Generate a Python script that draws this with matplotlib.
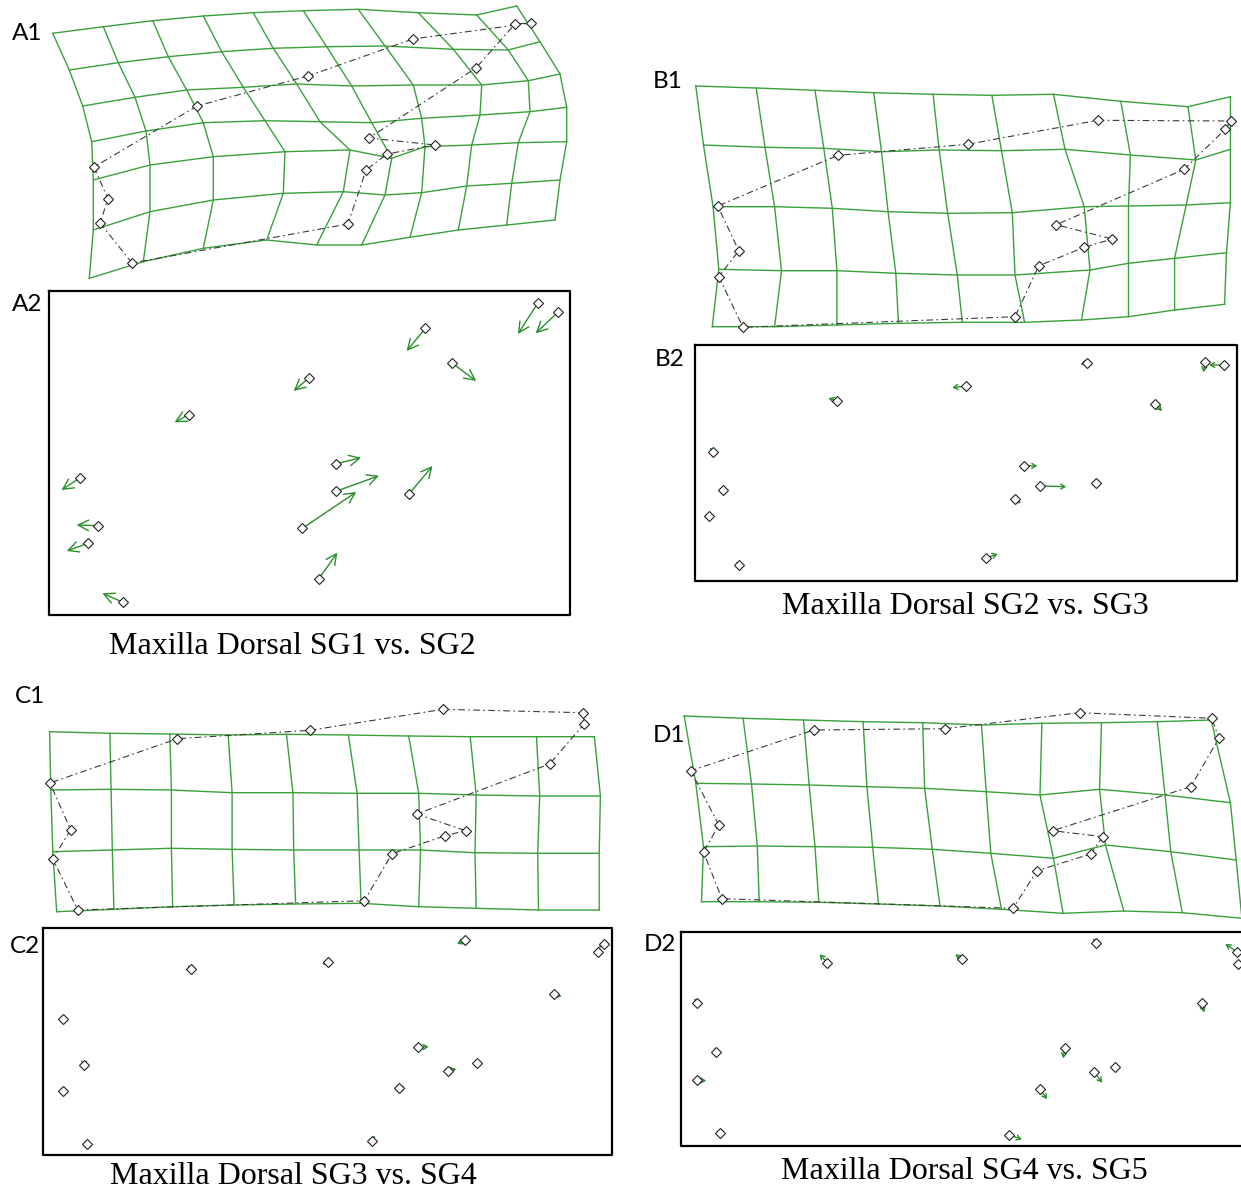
import matplotlib.pyplot as plt
import numpy as np

W, H = 1241, 1193
GRID_GREEN = '#3aa13a'
VEC_GREEN = '#2a8f2a'

# ---------------- A1: warped grid, node rows (x, y) ----------------
a1_gx = [
    [52.7, 103.3, 152.7, 203.3, 253.3, 303.3, 358.3, 418.3, 476.7, 516.7],
    [69.3, 118.3, 168.3, 221.7, 273.3, 326.7, 385.0, 453.3, 508.3, 540.0],
    [82.7, 135.0, 186.7, 243.3, 296.7, 351.7, 413.3, 481.7, 528.3, 560.0],
    [91.7, 146.0, 203.3, 265.0, 320.0, 371.7, 421.7, 480.0, 530.0, 566.7],
    [93.3, 150.0, 213.3, 285.0, 350.0, 391.7, 425.0, 471.7, 518.3, 566.7],
    [93.3, 150.0, 213.3, 283.3, 343.3, 385.0, 421.7, 466.7, 511.7, 560.0],
    [89.3, 143.3, 203.3, 266.7, 316.7, 361.7, 410.0, 458.3, 506.7, 555.0],
]
a1_gy = [
    [33.3, 26.7, 20.7, 16.0, 12.7, 10.7, 9.3, 12.7, 15.0, 6.0],
    [70.0, 62.7, 56.7, 51.7, 48.3, 46.7, 46.0, 49.3, 50.0, 41.7],
    [106.0, 97.3, 90.0, 87.3, 84.0, 86.0, 85.0, 85.0, 80.7, 74.0],
    [141.7, 131.0, 122.7, 120.7, 121.7, 122.7, 118.3, 115.0, 111.7, 107.3],
    [180.0, 165.0, 156.7, 151.7, 150.0, 158.3, 146.7, 145.0, 142.7, 141.7],
    [230.0, 211.7, 200.0, 193.3, 191.7, 195.0, 192.7, 186.0, 183.3, 180.0],
    [278.3, 261.7, 248.3, 240.0, 245.0, 245.0, 237.3, 230.0, 225.0, 220.0],
]
a1_lx = [531, 413, 308, 197, 94, 108, 100, 132, 348, 366, 387, 435, 369, 476, 515]
a1_ly = [23, 39, 76, 106, 167, 199, 223, 263, 224, 170, 154, 145, 138, 68, 24]

# ---------------- A2: landmark displacement vectors ----------------
a2_x0 = [537.7, 558.3, 425.4, 451.6, 309.1, 188.5, 80.2, 98.0, 88.1, 123.0, 336.1, 336.1, 302.4, 408.7, 318.7]
a2_y0 = [303.3, 311.7, 328.3, 362.7, 377.7, 414.7, 477.7, 525.7, 543.3, 602.3, 463.7, 491.3, 528.3, 494.3, 579.0]
a2_x1 = [517.9, 535.7, 406.7, 476.2, 293.7, 174.6, 61.5, 76.6, 66.7, 102.4, 361.1, 379.0, 356.3, 432.5, 337.3]
a2_y1 = [334.0, 333.3, 351.0, 381.0, 391.0, 422.3, 490.0, 525.0, 551.0, 593.3, 457.7, 475.7, 492.0, 466.0, 552.7]

# ---------------- B1 ----------------
b1_gx = [
    [695.8, 756.2, 815.0, 873.8, 933.1, 991.9, 1053.5, 1120.8, 1188.0, 1230.4],
    [703.5, 765.0, 823.8, 881.5, 939.2, 1001.5, 1065.0, 1130.4, 1195.8, 1230.4],
    [713.1, 774.6, 832.3, 888.1, 947.7, 1012.3, 1084.2, 1128.5, 1186.2, 1230.4],
    [718.8, 781.5, 836.9, 895.8, 957.3, 1015.0, 1090.0, 1128.5, 1174.6, 1226.5],
    [712.3, 774.6, 836.9, 898.5, 962.3, 1024.6, 1081.5, 1128.5, 1174.6, 1224.6],
]
b1_gy = [
    [86.0, 88.0, 90.3, 92.7, 94.3, 95.3, 94.3, 101.3, 106.7, 96.7],
    [145.0, 147.3, 148.3, 151.7, 150.0, 150.7, 149.3, 155.0, 160.0, 149.3],
    [206.7, 206.7, 208.3, 211.7, 213.3, 212.7, 206.7, 206.0, 205.0, 202.7],
    [269.3, 270.7, 270.7, 273.3, 275.0, 275.0, 270.0, 263.3, 258.3, 252.7],
    [326.7, 326.7, 325.0, 323.3, 322.3, 322.3, 320.0, 316.7, 310.0, 304.3],
]
b1_lx = [1097.7, 1231.2, 1225.4, 1184.2, 1056.2, 1112.3, 1084.2, 1038.8, 1015.0, 743.0, 718.8, 738.8, 717.7, 838.0, 967.7]
b1_ly = [120.3, 121.0, 129.0, 169.3, 224.7, 239.0, 247.3, 265.7, 316.7, 327.3, 276.7, 250.7, 206.0, 155.3, 144.3]

# ---------------- B2 ----------------
b2_x0 = [1223.5, 1205.0, 1087.0, 965.8, 837.3, 1155.4, 712.7, 1024.2, 1040.4, 1095.8, 723.0, 1014.6, 709.2, 738.8, 986.0]
b2_y0 = [365.0, 362.3, 362.7, 386.0, 401.0, 404.3, 451.7, 465.7, 486.0, 483.3, 490.0, 499.3, 516.3, 564.7, 558.0]
b2_x1 = [1209.2, 1203.5, 1080.4, 952.3, 828.5, 1162.0, 710.0, 1037.3, 1066.2, 1094.2, 727.7, 1020.8, 709.2, 735.4, 997.7]
b2_y1 = [365.0, 372.3, 364.3, 387.7, 398.3, 411.0, 447.7, 466.0, 486.7, 480.0, 489.3, 503.3, 516.3, 562.3, 554.0]

# ---------------- C1 ----------------
c1_gx = [
    [49.6, 109.9, 169.8, 228.2, 286.5, 348.4, 408.7, 470.2, 536.5, 594.4],
    [50.8, 111.1, 171.4, 232.1, 292.9, 357.1, 418.7, 476.2, 539.7, 600.4],
    [52.8, 112.3, 171.4, 232.1, 293.7, 359.1, 420.6, 475.0, 537.7, 599.2],
    [56.7, 113.9, 172.6, 234.1, 295.6, 361.1, 418.7, 476.2, 538.5, 599.2],
]
c1_gy = [
    [731.7, 733.3, 734.0, 735.0, 734.3, 735.0, 736.0, 736.7, 736.7, 736.7],
    [790.0, 789.3, 790.0, 792.7, 792.7, 793.3, 793.3, 795.0, 796.0, 796.0],
    [851.7, 850.0, 848.3, 849.3, 850.0, 850.0, 850.0, 852.7, 853.3, 853.3],
    [911.7, 909.3, 906.7, 905.0, 904.0, 903.3, 906.7, 908.3, 910.0, 910.0],
]
c1_lx = [309.9, 443.3, 582.9, 584.1, 549.6, 416.7, 465.5, 445.2, 392.1, 364.3, 77.8, 52.8, 70.6, 50.0, 177.4]
c1_ly = [730.3, 709.3, 712.7, 724.0, 764.0, 814.0, 830.7, 835.7, 853.7, 900.7, 910.0, 859.0, 829.7, 783.0, 738.7]

# ---------------- C2 ----------------
c2_x0 = [465.1, 604.0, 598.4, 190.9, 327.8, 554.4, 62.7, 417.9, 476.6, 447.6, 84.1, 398.8, 62.7, 372.2, 86.9]
c2_y0 = [940.0, 944.3, 952.3, 969.0, 962.3, 994.3, 1019.0, 1047.3, 1062.7, 1071.0, 1065.0, 1088.3, 1091.0, 1140.7, 1144.3]
c2_x1 = [457.1, 598.4, 598.0, 190.9, 322.2, 561.5, 62.7, 428.6, 476.6, 456.3, 84.1, 404.8, 62.7, 375.0, 86.9]
c2_y1 = [944.0, 947.3, 957.3, 971.7, 964.3, 996.7, 1019.0, 1046.7, 1062.7, 1069.0, 1066.7, 1086.7, 1091.0, 1135.7, 1144.3]

# ---------------- D1 ----------------
d1_gx = [
    [684.2, 743.1, 803.5, 863.1, 922.7, 981.5, 1041.9, 1101.5, 1157.3, 1211.2],
    [695.8, 751.5, 809.2, 866.9, 924.6, 986.2, 1040.0, 1099.6, 1165.0, 1230.4],
    [703.5, 757.3, 815.0, 872.7, 932.3, 990.8, 1053.5, 1105.4, 1170.8, 1236.2],
    [701.5, 759.2, 818.8, 878.5, 940.0, 1001.5, 1063.1, 1123.8, 1182.3, 1241.9],
]
d1_gy = [
    [716.0, 718.3, 720.0, 721.7, 722.7, 725.0, 723.3, 722.7, 721.7, 720.0],
    [783.3, 784.0, 785.0, 786.7, 788.3, 791.7, 795.0, 789.3, 795.0, 802.7],
    [846.7, 846.0, 846.7, 847.3, 849.3, 853.3, 858.3, 845.0, 851.7, 860.0],
    [901.7, 901.7, 902.3, 904.0, 906.0, 909.3, 913.3, 911.0, 912.7, 918.3],
]
d1_lx = [945.0, 1079.6, 1211.9, 1218.8, 1190.8, 1052.7, 1102.7, 1090.8, 1036.9, 1013.1, 721.9, 703.5, 718.8, 690.8, 813.8]
d1_ly = [728.7, 712.7, 718.3, 738.3, 786.7, 830.7, 836.7, 854.0, 870.7, 908.3, 898.7, 852.0, 825.0, 770.7, 730.0]

# ---------------- D2 ----------------
d2_x0 = [1095.8, 1237.3, 1238.0, 827.3, 961.5, 696.9, 1201.5, 1065.0, 715.8, 1115.4, 1093.8, 696.9, 1040.0, 720.0, 1009.2]
d2_y0 = [943.3, 952.0, 964.0, 962.7, 959.3, 1003.3, 1003.3, 1047.7, 1051.7, 1067.0, 1071.7, 1080.3, 1088.7, 1132.7, 1135.0]
d2_x1 = [1093.1, 1225.4, 1236.0, 819.6, 955.4, 694.6, 1204.2, 1063.1, 719.6, 1115.4, 1102.3, 706.2, 1046.9, 723.8, 1021.9]
d2_y1 = [938.3, 944.0, 961.0, 954.3, 954.3, 998.3, 1012.3, 1058.3, 1052.3, 1067.0, 1082.7, 1080.7, 1099.3, 1130.0, 1139.3]

# boxes around the vector plots: left, top, right, bottom
boxes = {'A2': (49, 291, 570, 615), 'B2': (695, 345, 1237, 581),
         'C2': (43, 928, 612, 1155), 'D2': (681, 932, 1243, 1146)}

panel_labels = ['A1', 'A2', 'B1', 'B2', 'C1', 'C2', 'D1', 'D2']
label_x = [12, 12, 653, 655, 15, 10, 653, 644]
label_y = [40, 311, 88, 366, 703, 953, 742, 951]

titles = ['Maxilla Dorsal SG1 vs. SG2', 'Maxilla Dorsal SG2 vs. SG3',
          'Maxilla Dorsal SG3 vs. SG4', 'Maxilla Dorsal SG4 vs. SG5']
title_x = [292, 965, 293, 964]
title_y = [654, 614, 1184, 1179]


def draw_grid(ax, gx, gy):
    gx = np.array(gx)
    gy = np.array(gy)
    for r in range(gx.shape[0]):
        ax.plot(gx[r], gy[r], color=GRID_GREEN, lw=1.0, zorder=1)
    for c in range(gx.shape[1]):
        ax.plot(gx[:, c], gy[:, c], color=GRID_GREEN, lw=1.0, zorder=1)


def draw_outline(ax, lx, ly):
    xs = list(lx) + [lx[0]]
    ys = list(ly) + [ly[0]]
    ax.plot(xs, ys, color='#3a3a3a', lw=0.8, ls=(0, (6, 3, 1.5, 3)), zorder=2)
    ax.plot(lx, ly, ls='none', marker='D', ms=4.8, mfc='white', mec='#222222',
            mew=0.8, zorder=3)


def draw_vectors(ax, x0, y0, x1, y1, big=False):
    style = '->,head_length=0.75,head_width=0.38' if big else '->,head_length=0.3,head_width=0.18'
    for a, b, c, d in zip(x0, y0, x1, y1):
        if abs(c - a) + abs(d - b) > 0.5:
            ax.annotate('', xy=(c, d), xytext=(a, b),
                        arrowprops=dict(arrowstyle=style, color=VEC_GREEN, lw=1.0,
                                        shrinkA=0, shrinkB=0), zorder=2)
    ax.plot(x0, y0, ls='none', marker='D', ms=4.8, mfc='white', mec='#222222',
            mew=0.8, zorder=3)


fig = plt.figure(figsize=(W / 100, H / 100), dpi=100)
ax = fig.add_axes([0, 0, 1, 1])
ax.set_xlim(0, W)
ax.set_ylim(H, 0)
ax.axis('off')

draw_grid(ax, a1_gx, a1_gy)
draw_outline(ax, a1_lx, a1_ly)
draw_grid(ax, b1_gx, b1_gy)
draw_outline(ax, b1_lx, b1_ly)
draw_grid(ax, c1_gx, c1_gy)
draw_outline(ax, c1_lx, c1_ly)
draw_grid(ax, d1_gx, d1_gy)
draw_outline(ax, d1_lx, d1_ly)

draw_vectors(ax, a2_x0, a2_y0, a2_x1, a2_y1, big=True)
draw_vectors(ax, b2_x0, b2_y0, b2_x1, b2_y1)
draw_vectors(ax, c2_x0, c2_y0, c2_x1, c2_y1)
draw_vectors(ax, d2_x0, d2_y0, d2_x1, d2_y1)

for key, (l, t, r, b) in boxes.items():
    ax.plot([l, r, r, l, l], [t, t, b, b, t], color='black', lw=1.6, zorder=4)

for lab, x, y in zip(panel_labels, label_x, label_y):
    ax.text(x, y, lab, fontsize=17.5, family='Lato', ha='left', va='baseline')

for t, x, y in zip(titles, title_x, title_y):
    ax.text(x, y, t, fontsize=23, family='Liberation Serif', ha='center', va='baseline')

fig.savefig('out.png', dpi=100)
